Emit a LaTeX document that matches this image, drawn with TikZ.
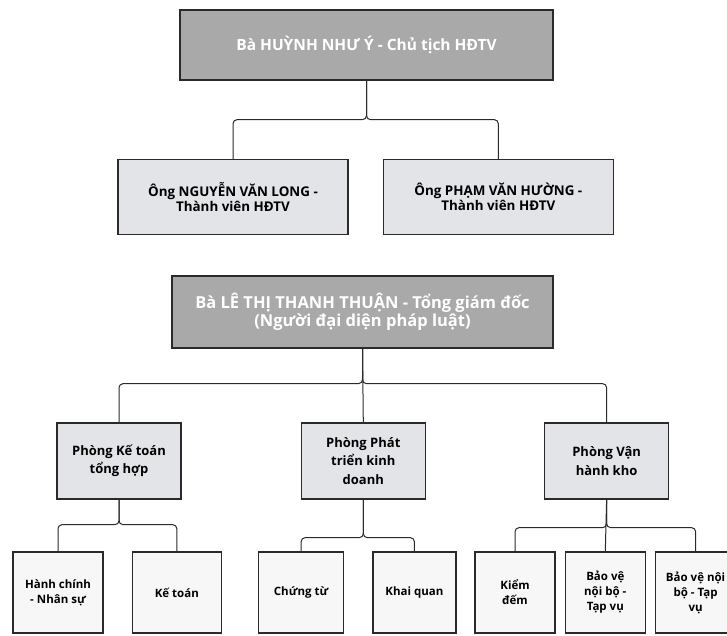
\documentclass[tikz,border=0pt]{standalone}
\usepackage{fontspec}
\setmainfont{Open Sans}
\usepackage{tikz}
\usetikzlibrary{positioning,calc}
\definecolor{boardgray}{HTML}{A9A9AA}
\definecolor{deptgray}{HTML}{E3E4E8}
\definecolor{unitgray}{HTML}{F7F7F7}
\definecolor{edgegray}{HTML}{2A2A2A}
\tikzset{
  headbox/.style={draw=edgegray,line width=1.3pt,fill=boardgray,text=white,align=center,
    inner sep=2pt,font=\bfseries\fontsize{15.5}{17}\selectfont},
  memberbox/.style={draw=edgegray,line width=1.3pt,fill=deptgray,align=center,inner sep=2pt,
    minimum width=230pt,minimum height=75pt,font=\bfseries\fontsize{13.4}{15.5}\selectfont},
  deptbox/.style={draw=edgegray,line width=1.3pt,fill=deptgray,align=center,inner sep=2pt,
    minimum width=124pt,minimum height=76pt,font=\bfseries\fontsize{13}{18.5}\selectfont},
  unitbox/.style={draw=edgegray,line width=1.3pt,fill=unitgray,align=center,inner sep=2pt,
    minimum height=81pt,font=\bfseries\fontsize{11.5}{15}\selectfont},
  orgline/.style={draw=edgegray,line width=1pt,rounded corners=4pt}
}
\begin{document}
\begin{tikzpicture}[x=1pt,y=1pt]
  \useasboundingbox (0,0) rectangle (727,635);
  \node[headbox,minimum width=373pt,minimum height=70pt] (chair) at (366.5,590)
    {Bà HUỲNH NHƯ Ý - Chủ tịch HĐTV};
  \node[memberbox] (long) at (233,438) {Ông NGUYỄN VĂN LONG -\\Thành viên HĐTV};
  \node[memberbox,right=34pt of long] (huong) {Ông PHẠM VĂN HƯỜNG -\\Thành viên HĐTV};
  \node[headbox,minimum width=381pt,minimum height=72pt,font=\bfseries\fontsize{16.5}{16.5}\selectfont] (ceo) at (362.5,323)
    {Bà LÊ THỊ THANH THUẬN - Tổng giám đốc\\(Người đại diện pháp luật)};
  \node[deptbox] (ketoan) at (119,174) {Phòng Kế toán\\tổng hợp};
  \node[deptbox,right=119pt of ketoan] (kinhdoanh) {Phòng Phát\\triển kinh\\doanh};
  \node[deptbox,right=118pt of kinhdoanh] (vanhanh) {Phòng Vận\\hành kho};
  \node[unitbox,minimum width=90pt] (hcns) at (58,42.5) {Hành chính\\- Nhân sự};
  \node[unitbox,minimum width=89pt,right=28pt of hcns] (ktoan) {Kế toán};
  \node[unitbox,minimum width=85pt,right=36pt of ktoan] (chungtu) {Chứng từ};
  \node[unitbox,minimum width=83pt,right=28pt of chungtu] (khaiquan) {Khai quan};
  \node[unitbox,minimum width=80pt] (kiemdem) at (515,42.5) {Kiểm\\đếm};
  \node[unitbox,minimum width=80pt,right=9pt of kiemdem] (baove) {Bảo vệ\\nội bộ -\\Tạp vụ};
  \node[unitbox,minimum width=80pt,right=9pt of baove] (baovenb) {Bảo vệ nội\\bộ - Tạp\\vụ};
  \draw[orgline] (chair.south) -- ++(0,-39) -| (long.north);
  \draw[orgline] (chair.south) -- ++(0,-39) -| (huong.north);
  \draw[orgline] (ceo.south) -- ++(0,-35) -| (ketoan.north);
  \draw[orgline] (ceo.south) -- (kinhdoanh.north);
  \draw[orgline] (ceo.south) -- ++(0,-35) -| (vanhanh.north);
  \draw[orgline] (ketoan.south) -- ++(0,-25) -| (hcns.north);
  \draw[orgline] (ketoan.south) -- ++(0,-25) -| (ktoan.north);
  \draw[orgline] (kinhdoanh.south) -- ++(0,-38) -| (chungtu.north);
  \draw[orgline] (kinhdoanh.south) -- ++(0,-38) -| (khaiquan.north);
  \draw[orgline] (vanhanh.south) -- ++(0,-28) -| (kiemdem.north);
  \draw[orgline] (vanhanh.south) -- (baove.north);
  \draw[orgline] (vanhanh.south) -- ++(0,-28) -| (baovenb.north);
\end{tikzpicture}
\end{document}
